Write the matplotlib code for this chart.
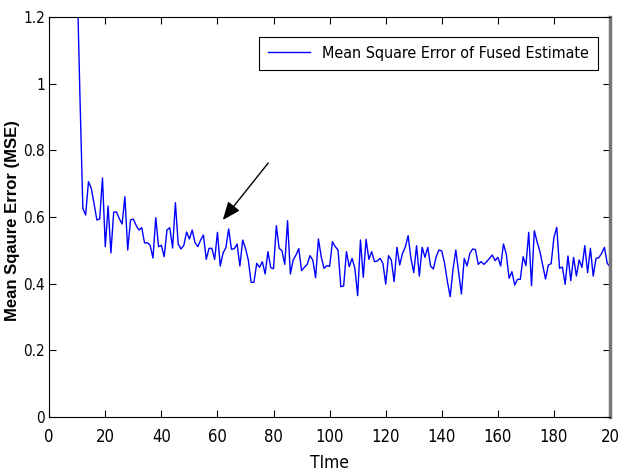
import matplotlib
matplotlib.use("Agg")
import matplotlib.pyplot as plt
from matplotlib import font_manager
from matplotlib.font_manager import FontProperties

time = list(range(10, 201))
mse = [
    1.30, 0.95, 0.626, 0.606, 0.706, 0.686, 0.64, 0.591, 0.594, 0.717,
    0.511, 0.633, 0.492, 0.615, 0.615, 0.595, 0.579, 0.661, 0.501, 0.591,
    0.594, 0.575, 0.561, 0.568, 0.522, 0.523, 0.515, 0.477, 0.598, 0.511,
    0.515, 0.481, 0.561, 0.568, 0.507, 0.643, 0.519, 0.504, 0.515, 0.555,
    0.534, 0.561, 0.523, 0.511, 0.531, 0.546, 0.473, 0.506, 0.506, 0.473,
    0.554, 0.453, 0.492, 0.508, 0.564, 0.503, 0.505, 0.519, 0.453, 0.531,
    0.506, 0.471, 0.404, 0.404, 0.461, 0.449, 0.466, 0.429, 0.496, 0.448,
    0.445, 0.574, 0.506, 0.499, 0.458, 0.589, 0.429, 0.471, 0.486, 0.505,
    0.439, 0.449, 0.458, 0.484, 0.471, 0.418, 0.534, 0.481, 0.446, 0.454,
    0.452, 0.526, 0.511, 0.501, 0.391, 0.393, 0.496, 0.451, 0.476, 0.446,
    0.364, 0.531, 0.419, 0.533, 0.473, 0.496, 0.466, 0.468, 0.476, 0.461,
    0.399, 0.484, 0.471, 0.406, 0.509, 0.456, 0.491, 0.510, 0.544, 0.476,
    0.433, 0.514, 0.423, 0.509, 0.479, 0.509, 0.453, 0.444, 0.481, 0.501,
    0.498, 0.461, 0.406, 0.361, 0.443, 0.501, 0.436, 0.369, 0.476, 0.453,
    0.491, 0.504, 0.502, 0.458, 0.466, 0.458, 0.466, 0.476, 0.486, 0.469,
    0.479, 0.453, 0.519, 0.489, 0.416, 0.436, 0.396, 0.413, 0.413, 0.481,
    0.454, 0.554, 0.394, 0.559, 0.525, 0.496, 0.455, 0.414, 0.456, 0.460,
    0.539, 0.569, 0.446, 0.450, 0.398, 0.483, 0.409, 0.479, 0.423, 0.471,
    0.449, 0.514, 0.433, 0.506, 0.423, 0.476, 0.478, 0.491, 0.509, 0.461,
    0.451,
]
xticks = [0, 20, 40, 60, 80, 100, 120, 140, 160, 180, 200]
xticklabels = ["0", "20", "40", "60", "80", "100", "120", "140", "160", "180", "20"]
yticks = [0, 0.2, 0.4, 0.6, 0.8, 1.0, 1.2]
yticklabels = ["0", "0.2", "0.4", "0.6", "0.8", "1", "1.2"]
legend_label = "Mean Square Error of Fused Estimate"


def find_narrow():
    files = [f.fname for f in font_manager.fontManager.ttflist]
    prefs = ["LiberationSansNarrow-Regular", "DejaVuSansCondensed.ttf",
             "Condensed-Regular", "Narrow-Regular", "Condensed.ttf"]
    for p in prefs:
        for fn in files:
            if p.lower() in fn.lower():
                return fn
    return None


nf = find_narrow()


def fp(size):
    if nf:
        return FontProperties(fname=nf, size=size)
    return FontProperties(family="Liberation Sans", size=size)


fig = plt.figure(figsize=(6.26, 4.73), dpi=100)
ax = fig.add_axes([0.0786, 0.1184, 0.8959, 0.8456])
ax.plot(time, mse, color="#0000ff", lw=1.0, label=legend_label)
ax.set_xlim(0, 200)
ax.set_ylim(0, 1.2)
ax.set_xticks(xticks)
ax.set_xticklabels(xticklabels, fontproperties=fp(12))
ax.set_yticks(yticks)
ax.set_yticklabels(yticklabels, fontproperties=fp(11))
ax.tick_params(axis="x", direction="in", top=True, length=5, width=0.8, pad=8)
ax.tick_params(axis="y", direction="in", right=True, length=5, width=0.8, pad=3)
ax.set_xlabel("TIme", fontproperties=fp(12.5), labelpad=6)
ax.set_ylabel("Mean Sqaure Error (MSE)", family="Liberation Sans", fontsize=12,
              fontweight="bold")
ax.yaxis.set_label_coords(-0.052, 0.49)
for s in ["left", "bottom", "top"]:
    ax.spines[s].set_linewidth(0.8)
ax.spines["right"].set_color("#777777")
ax.spines["right"].set_linewidth(2.5)

ax.annotate("", xy=(61.9, 0.591), xytext=(78.1, 0.762),
            arrowprops=dict(arrowstyle="-|>,head_length=1.1,head_width=0.45",
                            color="black", lw=1.0, shrinkA=0, shrinkB=0))

leg = ax.legend(loc="upper right", prop=fp(11.5),
                fancybox=False, framealpha=1, edgecolor="black",
                handlelength=2.6, borderpad=0.55, bbox_to_anchor=(0.993, 0.97))
leg.get_frame().set_linewidth(0.8)

fig.savefig("out.png", dpi=100)
